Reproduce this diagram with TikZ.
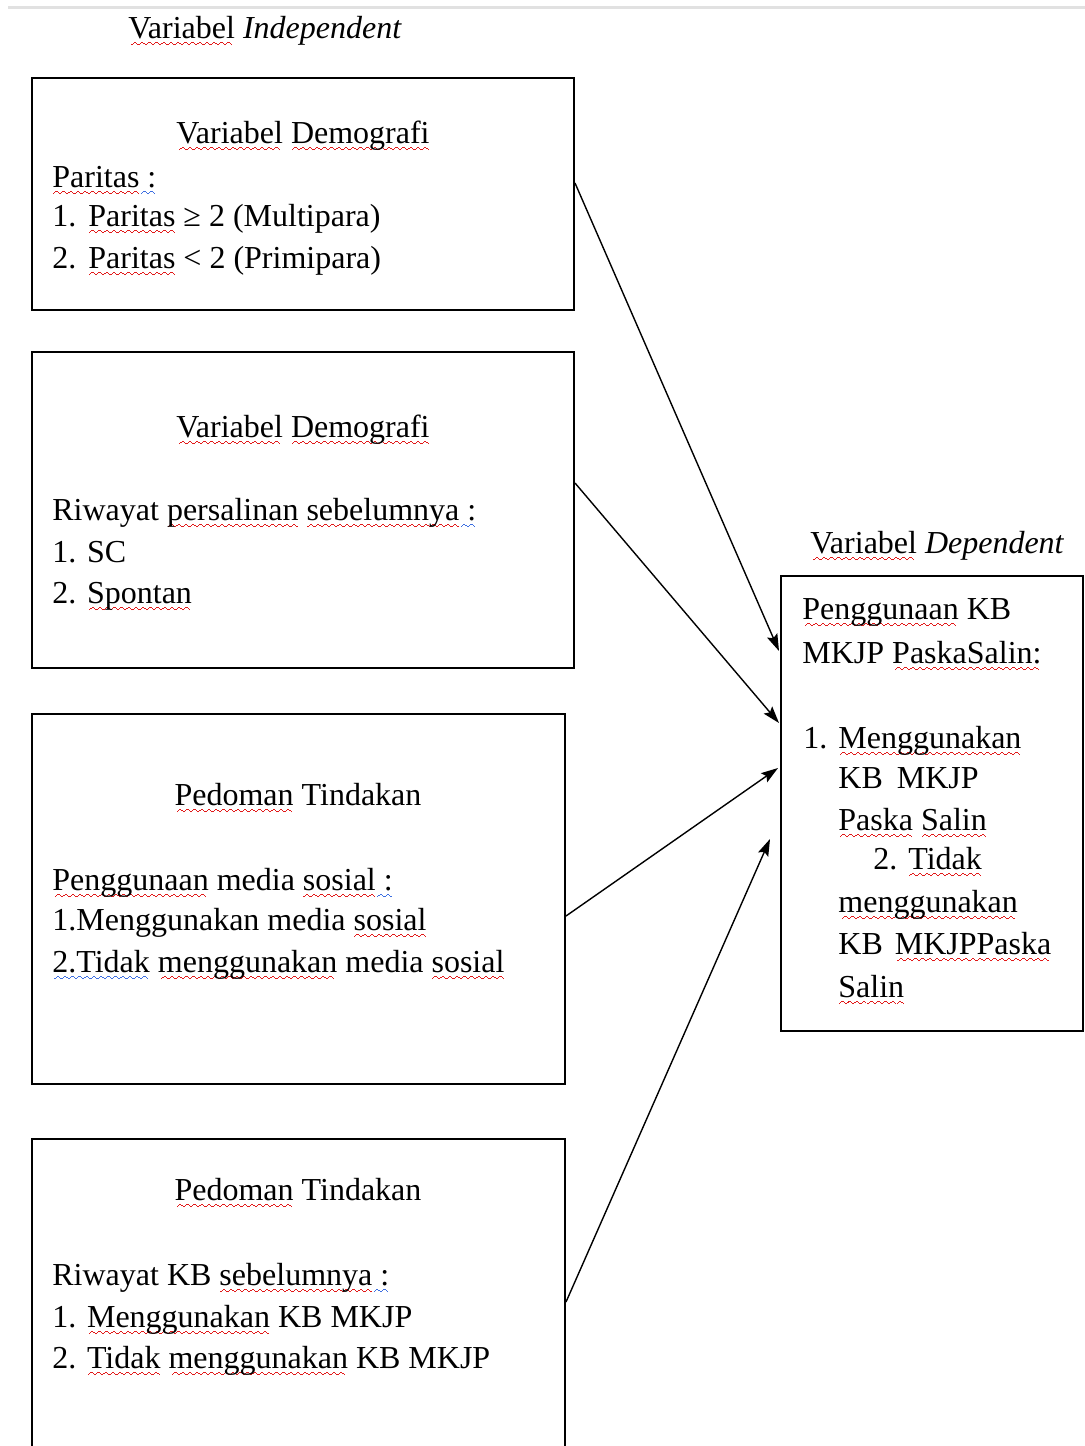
\documentclass[tikz,border=0pt]{standalone}
\usepackage{fontspec}
\setmainfont{Liberation Serif}
\usetikzlibrary{arrows.meta}
\newsavebox\wvbox
\definecolor{wred}{RGB}{225,25,25}
\definecolor{wblue}{RGB}{60,110,225}
\definecolor{topline}{RGB}{225,225,225}
% spell-check style wavy underline built from tiny rules (no glyphs)
\newcommand\wavecell{\rule[-3.6pt]{0.6pt}{0.75pt}\rule[-3.1pt]{0.6pt}{0.75pt}\rule[-2.6pt]{0.6pt}{0.75pt}\rule[-2.6pt]{0.6pt}{0.75pt}\rule[-3.1pt]{0.6pt}{0.75pt}\rule[-3.6pt]{0.6pt}{0.75pt}}
\newcommand\wv[2]{\sbox\wvbox{#2}\rlap{\smash{\textcolor{#1}{\hbox to \wd\wvbox{\cleaders\hbox{\wavecell}\hfil}}}}\usebox\wvbox}
\newcommand\rw[1]{\wv{wred}{#1}}
\newcommand\bw[1]{\wv{wblue}{#1}}
\newcommand\fs{\fontsize{16pt}{21pt}\selectfont}
\begin{document}
\begin{tikzpicture}[x=0.5pt,y=-0.5pt,
  boxst/.style={draw, line width=1pt, inner sep=0pt, outer sep=0pt, anchor=north west},
  txt/.style={anchor=base west, inner sep=0pt, font=\fs},
  ttl/.style={anchor=base, inner sep=0pt, font=\fs},
  arr/.style={line width=0.7pt, -{Stealth[length=8.5pt,width=5.5pt,inset=1.5pt]}}]
\useasboundingbox (0,0) rectangle (1085,1446);
\draw[topline, line width=1.5pt] (8,7) -- (1085,7);

% title
\node[txt] (indep) at (128,38) {\rw{Variabel} \textit{Independent}};

% box 1
\node[boxst, minimum width=271pt, minimum height=116pt] (b1) at (32,78) {};
\node[ttl] (b1t) at (303,143) {\rw{Variabel} \rw{Demografi}};
\node[txt] (b1a) at (52,187) {\rw{Paritas}\bw{\ :}};
\node[txt] (b1b) at (52,226) {\makebox[18pt][l]{1.}\rw{Paritas} ≥ 2 (Multipara)};
\node[txt] (b1c) at (52,268) {\makebox[18pt][l]{2.}\rw{Paritas} < 2 (Primipara)};

% box 2
\node[boxst, minimum width=271pt, minimum height=158pt] (b2) at (32,352) {};
\node[ttl] (b2t) at (303,437) {\rw{Variabel} \rw{Demografi}};
\node[txt] (b2a) at (52,520) {Riwayat \rw{persalinan} \rw{sebelumnya}\bw{\ :}};
\node[txt] (b2b) at (52,562) {1. SC};
\node[txt] (b2c) at (52,603) {2. \rw{Spontan}};

% box 3
\node[boxst, minimum width=266.5pt, minimum height=185pt] (b3) at (32,714) {};
\node[ttl] (b3t) at (298,805) {\rw{Pedoman} Tindakan};
\node[txt] (b3a) at (52,890) {\rw{Penggunaan} media \rw{sosial}\bw{\ :}};
\node[txt] (b3b) at (52,930) {1.Menggunakan media \rw{sosial}};
\node[txt] (b3c) at (52,972) {\bw{2.Tidak} \rw{menggunakan} media \rw{sosial}};

% box 4 (runs past the bottom edge)
\node[boxst, draw=none, minimum width=266.5pt, minimum height=153.5pt] (b4) at (32,1139) {};
\draw[line width=1pt] (b4.south west) -- (b4.north west) -- (b4.north east) -- (b4.south east);
\node[ttl] (b4t) at (298,1200) {\rw{Pedoman} Tindakan};
\node[txt] (b4a) at (52,1285) {Riwayat KB \rw{sebelumnya}\bw{\ :}};
\node[txt] (b4b) at (52,1327) {1. \rw{Menggunakan} KB MKJP};
\node[txt] (b4c) at (52,1368) {2. \rw{Tidak} \rw{menggunakan} KB MKJP};

% dependent
\node[txt] (deplab) at (810,553) {\rw{Variabel} \textit{Dependent}};
\node[boxst, minimum width=151pt, minimum height=227.5pt] (dep) at (781,576) {};
\node[txt] (d1) at (802,619) {\rw{Penggunaan} KB};
\node[txt] (d2) at (802,663) {MKJP \rw{PaskaSalin:}};
\node[txt] (d3n) at (803,748) {1.};
\node[txt] (d3) at (838,748) {\rw{Menggunakan}};
\node[txt] (d4) at (838,788) {KB\hspace{7pt}MKJP};
\node[txt] (d5) at (838,830) {\rw{Paska} \rw{Salin}};
\node[txt] (d6n) at (873,869) {2.};
\node[txt] (d6) at (908,869) {\rw{Tidak}};
\node[txt] (d7) at (838,912) {\rw{menggunakan}};
\node[txt] (d8) at (838,954) {KB\hspace{6pt}\rw{MKJPPaska}};
\node[txt] (d9) at (838,997) {\rw{Salin}};

% connectors
\coordinate (s1) at (575,183); \coordinate (t1) at (779,651);
\coordinate (s2) at (575,483); \coordinate (t2) at (779,723);
\coordinate (s3) at (566,916); \coordinate (t3) at (778,768);
\coordinate (s4) at (566,1302); \coordinate (t4) at (770,839);
\draw[arr] (s1) -- (t1);
\draw[arr] (s2) -- (t2);
\draw[arr] (s3) -- (t3);
\draw[arr] (s4) -- (t4);
\end{tikzpicture}
\end{document}
